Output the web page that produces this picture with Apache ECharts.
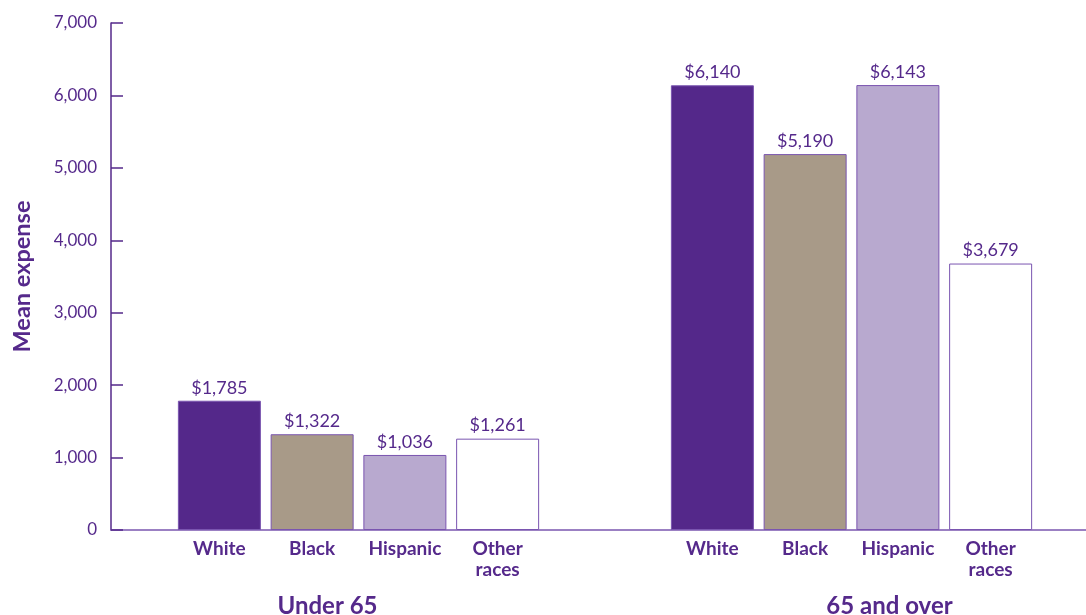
<!DOCTYPE html>
<html><head><meta charset="utf-8">
<script src="https://cdn.jsdelivr.net/npm/echarts@6/dist/echarts.min.js"></script>
<style>html,body{margin:0;padding:0;background:#fff}#c{width:1086px;height:615px}</style>
</head><body><div id="c"></div>
<script>
const categories = ['White', 'Black', 'Hispanic', 'Other\nraces'];
const groups = ['Under 65', '65 and over'];
const under65 = [1785, 1322, 1036, 1261];
const over65 = [6140, 5190, 6143, 3679];
const yTicks = [0, 1000, 2000, 3000, 4000, 5000, 6000, 7000];

const purple = '#54288A';
const textPurple = '#55298B';
const barColors = ['#54288A', '#A89A88', '#B8A9CF', '#FFFFFF'];
const font = 'Lato';

const chart = echarts.init(document.getElementById('c'));
function mkData(vals) {
  return vals.map((v, i) => ({ value: v, itemStyle: { color: barColors[i] } }));
}
const labelCfg = {
  show: true, position: 'top', distance: 4,
  color: textPurple, fontFamily: font, fontSize: 18,
  formatter: p => '$' + p.value.toLocaleString('en-US')
};
const catAxis = (gi, name, pad) => ({
  type: 'category', gridIndex: gi, data: categories,
  axisLine: { show: false }, axisTick: { show: false },
  axisLabel: { color: textPurple, fontFamily: font, fontWeight: 'bold', fontSize: 19, margin: 8, lineHeight: 21, interval: 0 },
  name: name, nameLocation: 'middle', nameGap: 64,
  nameTextStyle: { color: textPurple, fontFamily: font, fontWeight: 'bold', fontSize: 24, padding: pad }
});
const hiddenY = gi => ({ type: 'value', gridIndex: gi, min: yTicks[0], max: yTicks[yTicks.length - 1], interval: 1000, show: false });
const g = (o) => Object.assign({ top: 23, bottom: 85, outerBoundsMode: 'none', containLabel: false }, o);

chart.setOption({
  animation: false,
  grid: [
    g({ left: 111, right: 0 }),
    g({ left: 173, width: 371 }),
    g({ left: 666, width: 371 })
  ],
  xAxis: [
    { type: 'value', gridIndex: 0, min: 0, max: 1, axisLine: { show: true, onZero: false, lineStyle: { color: '#7B57B0', width: 1.5 } },
      axisTick: { show: false }, axisLabel: { show: false }, splitLine: { show: false } },
    catAxis(1, groups[0], [0, 62, 0, 0]),
    catAxis(2, groups[1], [0, 0, 0, 76])
  ],
  yAxis: [
    { type: 'value', gridIndex: 0, min: yTicks[0], max: yTicks[yTicks.length - 1], interval: 1000,
      axisLine: { show: true, lineStyle: { color: purple, width: 1.5 } },
      axisTick: { show: true, inside: true, length: 12, lineStyle: { color: purple, width: 1.5 } },
      splitLine: { show: false },
      axisLabel: { color: textPurple, fontFamily: font, fontSize: 17, margin: 14,
        formatter: v => v.toLocaleString('en-US') },
      name: 'Mean expense', nameLocation: 'middle', nameGap: 77,
      nameTextStyle: { color: textPurple, fontFamily: font, fontWeight: 'bold', fontSize: 23.5 } },
    hiddenY(1), hiddenY(2)
  ],
  series: [
    { type: 'bar', xAxisIndex: 1, yAxisIndex: 1, barWidth: 83, data: mkData(under65),
      itemStyle: { borderColor: '#7A55B0', borderWidth: 1 }, label: labelCfg },
    { type: 'bar', xAxisIndex: 2, yAxisIndex: 2, barWidth: 83, data: mkData(over65),
      itemStyle: { borderColor: '#7A55B0', borderWidth: 1 }, label: labelCfg }
  ]
});
</script></body></html>
